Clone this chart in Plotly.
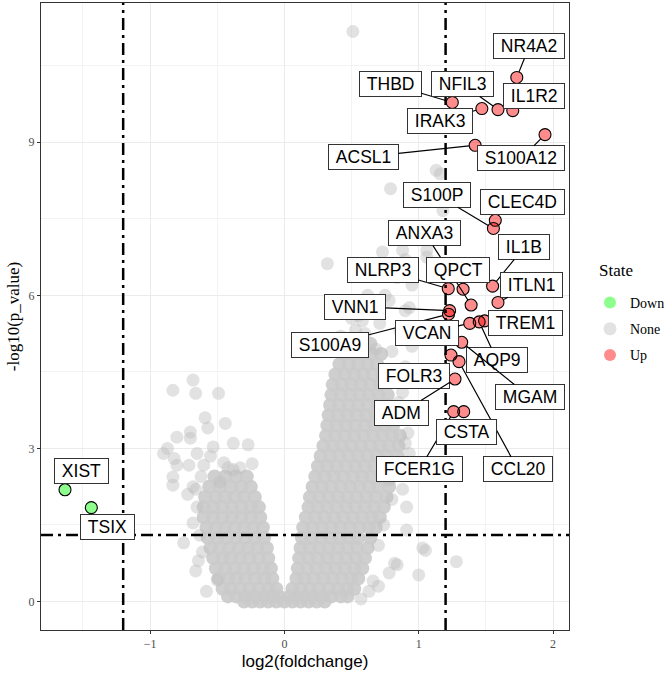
import math
import plotly.graph_objects as go

# ---------------- data ----------------
up_genes = ["NR4A2", "THBD", "NFIL3", "IL1R2", "IRAK3", "ACSL1", "S100A12", "S100P",
            "CLEC4D", "ANXA3", "IL1B", "NLRP3", "QPCT", "ITLN1", "VNN1", "S100A9",
            "VCAN", "AQP9", "TREM1", "MGAM", "FOLR3", "CCL20", "ADM", "FCER1G", "CSTA"]
up_log2fc = [1.73, 1.25, 1.59, 1.70, 1.47, 1.42, 1.94, 1.556,
             1.57, 1.39, 1.55, 1.22, 1.33, 1.59, 1.23, 1.222,
             1.38, 1.45, 1.49, 1.32, 1.24, 1.30, 1.27, 1.26, 1.335]
up_logp = [10.27, 9.78, 9.64, 9.62, 9.66, 8.94, 9.15, 7.31,
           7.47, 5.81, 6.18, 6.13, 6.12, 5.86, 5.70, 5.63,
           5.45, 5.48, 5.50, 5.08, 4.83, 4.70, 4.36, 3.72, 3.72]

down_genes = ["XIST", "TSIX"]
down_log2fc = [-1.633, -1.437]
down_logp = [2.19, 1.84]

# non-significant genes: dense core, typed row by row (y level, x values)
none_core_y = [0.00, 0.10, 0.25, 0.45, 0.65, 0.85, 1.05, 1.25, 1.45, 1.65, 1.85, 2.05,
               2.25, 2.45, 2.65, 2.85, 3.05, 3.25, 3.45, 3.65, 3.85, 4.05, 4.25, 4.45,
               4.65, 4.85, 5.05]
none_core_x = [
    [-0.30, -0.24, -0.18, -0.12, -0.06, 0.0, 0.06, 0.12, 0.18, 0.24, 0.30],
    [-0.42, -0.36, -0.29, -0.22, -0.15, -0.09, -0.04, 0.04, 0.09, 0.15, 0.21, 0.28, 0.35, 0.42, 0.47],
    [-0.46, -0.40, -0.33, -0.26, -0.19, -0.12, -0.06, 0.06, 0.12, 0.19, 0.26, 0.33, 0.40, 0.47, 0.52],
    [-0.49, -0.42, -0.36, -0.29, -0.22, -0.15, -0.09, 0.09, 0.15, 0.22, 0.29, 0.36, 0.43, 0.50, 0.55],
    [-0.51, -0.44, -0.37, -0.30, -0.23, -0.16, -0.10, 0.10, 0.17, 0.24, 0.31, 0.38, 0.45, 0.52, 0.58],
    [-0.53, -0.46, -0.40, -0.33, -0.26, -0.19, -0.12, 0.11, 0.18, 0.25, 0.32, 0.39, 0.46, 0.53, 0.60],
    [-0.55, -0.48, -0.41, -0.34, -0.27, -0.20, -0.13, 0.12, 0.19, 0.26, 0.33, 0.40, 0.47, 0.54, 0.62],
    [-0.57, -0.50, -0.43, -0.36, -0.29, -0.22, -0.15, 0.13, 0.20, 0.27, 0.34, 0.41, 0.48, 0.55, 0.64],
    [-0.58, -0.51, -0.44, -0.37, -0.30, -0.23, -0.16, 0.14, 0.21, 0.28, 0.35, 0.42, 0.49, 0.56, 0.63, 0.68],
    [-0.60, -0.53, -0.46, -0.39, -0.32, -0.25, -0.18, 0.16, 0.23, 0.30, 0.37, 0.44, 0.51, 0.58, 0.65, 0.71],
    [-0.60, -0.53, -0.46, -0.39, -0.32, -0.25, -0.19, 0.18, 0.25, 0.32, 0.39, 0.46, 0.53, 0.60, 0.67, 0.74],
    [-0.59, -0.51, -0.44, -0.37, -0.30, -0.22, 0.19, 0.26, 0.33, 0.40, 0.47, 0.54, 0.61, 0.68, 0.76],
    [-0.56, -0.48, -0.40, -0.32, -0.25, 0.21, 0.28, 0.35, 0.42, 0.49, 0.56, 0.63, 0.70, 0.78],
    [-0.52, -0.44, -0.36, -0.28, 0.23, 0.30, 0.37, 0.44, 0.51, 0.58, 0.65, 0.72, 0.80],
    [0.25, 0.32, 0.39, 0.46, 0.53, 0.60, 0.67, 0.74, 0.82],
    [0.27, 0.34, 0.41, 0.48, 0.55, 0.62, 0.69, 0.76, 0.84],
    [0.29, 0.36, 0.43, 0.50, 0.57, 0.64, 0.71, 0.78, 0.85],
    [0.31, 0.38, 0.45, 0.52, 0.59, 0.66, 0.73, 0.80, 0.86],
    [0.32, 0.39, 0.46, 0.53, 0.60, 0.67, 0.74, 0.81],
    [0.33, 0.40, 0.47, 0.54, 0.61, 0.68, 0.75, 0.82],
    [0.34, 0.41, 0.48, 0.55, 0.62, 0.69, 0.76],
    [0.35, 0.42, 0.49, 0.56, 0.63, 0.70, 0.77],
    [0.36, 0.43, 0.50, 0.57, 0.64, 0.71],
    [0.38, 0.45, 0.52, 0.59, 0.66, 0.73],
    [0.41, 0.48, 0.55, 0.62, 0.69],
    [0.44, 0.51, 0.58, 0.65, 0.72],
    [0.48, 0.56, 0.64],
]

# non-significant genes: scattered individual points
none_x = [-0.68, -0.83, -0.66, -0.49, -0.59, -0.44, -0.57, -0.70, -0.80, -0.70, -0.87, -0.53,
          -0.38, -0.27, -0.90, -0.65, -0.82, -0.80, -0.71, -0.60, -0.45, -0.38, -0.33, -0.83,
          -0.83, -0.68, -0.48, -0.65, -0.68, -0.75, -0.61, -0.50, -0.72, -0.62, -0.66, -0.55,
          -0.63, -0.64, -0.58, -0.66, -0.42, -0.24,
          0.51, 1.13, 1.16, 0.79, 1.18, 0.73, 1.06, 0.90, 0.84, 0.32, 0.65, 0.72, 0.95, 0.62,
          0.78, 0.90, 0.55, 0.86, 0.95, 0.90, 0.88, 0.95, 0.92, 0.93, 0.86, 0.78, 0.91, 0.91,
          1.03, 1.05, 0.82, 0.78, 1.00, 1.28, 0.84, 0.70, 0.63, 0.53, 0.71, 0.64, 0.93, 0.75,
          1.06, 0.88, 0.42, 0.58, 0.50,
          0.66, 0.70, 0.74, 0.80, 0.88, 0.90, 0.85, 0.82, 0.80, 0.60, 0.68, 0.57]
none_y = [4.34, 4.14, 4.08, 4.08, 3.60, 3.49, 3.40, 3.32, 3.22, 3.20, 3.00, 3.03,
          3.10, 3.07, 2.90, 2.90, 2.80, 2.67, 2.67, 2.67, 2.72, 2.58, 2.62, 2.44,
          2.28, 2.25, 2.34, 1.85, 1.54, 1.15, 0.97, 0.42, 2.10, 2.45, 0.60, 2.85,
          1.30, 0.80, 0.20, 2.20, 2.62, 2.70,
          11.17, 8.45, 8.38, 8.09, 7.66, 6.85, 6.75, 6.70, 6.35, 6.62, 6.60, 6.40, 6.20, 6.00,
          5.90, 5.70, 5.60, 5.30, 5.00, 4.60, 4.10, 3.70, 3.30, 2.90, 2.55, 2.38, 1.85, 1.40,
          1.05, 1.00, 0.75, 0.56, 0.52, 0.78, 0.72, 0.30, 0.20, 5.32, 5.45, 5.70, 5.76, 6.00,
          6.88, 6.88, 5.20, 5.50, 5.55,
          0.40, 1.10, 1.50, 2.00, 2.20, 3.10, 3.90, 4.50, 4.90, 5.25, 4.95, 0.05]

fc_cutoff = 1.2
p_cutoff = 0.05

# ---------------- layout helpers (label placement, data coords) ----------------
label_pos = {
    "NR4A2": (1.824, 10.885), "THBD": (0.788, 10.14), "NFIL3": (1.323, 10.14),
    "IL1R2": (1.857, 9.906), "IRAK3": (1.160, 9.417), "ACSL1": (0.588, 8.712),
    "S100A12": (1.765, 8.683), "S100P": (1.134, 7.969), "CLEC4D": (1.772, 7.832),
    "ANXA3": (1.045, 7.225), "IL1B": (1.787, 6.951), "NLRP3": (0.733, 6.501),
    "QPCT": (1.293, 6.501), "ITLN1": (1.843, 6.207), "VNN1": (0.525, 5.777),
    "S100A9": (0.343, 5.033), "VCAN": (1.059, 5.268), "AQP9": (1.583, 4.730),
    "TREM1": (1.798, 5.464), "MGAM": (1.828, 4.006), "FOLR3": (0.963, 4.427),
    "CCL20": (1.739, 2.587), "ADM": (0.870, 3.693), "FCER1G": (1.004, 2.587),
    "CSTA": (1.353, 3.321), "XIST": (-1.513, 2.558), "TSIX": (-1.316, 1.462),
}
no_segment = {"IL1R2", "CLEC4D", "QPCT", "TREM1", "FOLR3", "CSTA", "XIST", "TSIX"}

core_x, core_y = [], []
for yv, xs in zip(none_core_y, none_core_x):
    for xv in xs:
        core_x.append(xv)
        core_y.append(yv)

all_x = core_x + none_x + up_log2fc + down_log2fc
all_y = core_y + none_y + up_logp + down_logp
xr = [min(all_x), max(all_x)]
yr = [min(all_y), max(all_y)]
xpad = 0.05 * (xr[1] - xr[0])
ypad = 0.05 * (yr[1] - yr[0])
x_range = [xr[0] - xpad, xr[1] + xpad]
y_range = [yr[0] - ypad, yr[1] + ypad]
p_line = -math.log10(p_cutoff)

SERIF = "Liberation Serif, Times New Roman, serif"
SANS = "Liberation Sans, Arial, sans-serif"
GREY = "rgba(190,190,190,0.45)"

W, H = 669, 677
ML, MR, MT, MB = 41, 100, 3, 47
PW, PH = W - ML - MR, H - MT - MB

fig = go.Figure()
fig.add_trace(go.Scatter(x=core_x, y=core_y, mode="markers", showlegend=False,
                         hoverinfo="skip",
                         marker=dict(size=14, color="rgba(202,202,202,0.9)", line=dict(width=0))))
fig.add_trace(go.Scatter(x=down_log2fc, y=down_logp, mode="markers", name="Down",
                         legendgroup="a",
                         marker=dict(size=12, color="rgba(0,255,0,0.45)", line=dict(width=0))))
fig.add_trace(go.Scatter(x=none_x, y=none_y, mode="markers", name="None",
                         legendgroup="b",
                         marker=dict(size=13, color=GREY, line=dict(width=0))))
fig.add_trace(go.Scatter(x=up_log2fc, y=up_logp, mode="markers", name="Up",
                         legendgroup="c",
                         marker=dict(size=12, color="rgba(255,0,0,0.45)", line=dict(width=0))))

dash = "12px,5px,3px,5px"
for xv in (-fc_cutoff, fc_cutoff):
    fig.add_trace(go.Scatter(x=[xv, xv], y=y_range, mode="lines", showlegend=False,
                             hoverinfo="skip", line=dict(color="black", width=2.5, dash=dash)))
fig.add_trace(go.Scatter(x=x_range, y=[p_line, p_line], mode="lines", showlegend=False,
                         hoverinfo="skip", line=dict(color="black", width=2.5, dash=dash)))

# outlined labelled points
fig.add_trace(go.Scatter(x=up_log2fc + down_log2fc, y=up_logp + down_logp, mode="markers",
                         showlegend=False, hoverinfo="skip",
                         marker=dict(size=12, color="rgba(0,0,0,0)",
                                     line=dict(width=1.1, color="black"))))

anns = []
for names, xs, ys in ((up_genes, up_log2fc, up_logp), (down_genes, down_log2fc, down_logp)):
    for n, xv, yv in zip(names, xs, ys):
        lx, ly = label_pos[n]
        base = dict(text="\u00a0" + n + "\u00a0", font=dict(family=SANS, size=17.5, color="black"),
                    bgcolor="white", bordercolor="#333333", borderwidth=1, borderpad=2)
        if n in no_segment:
            anns.append(dict(x=lx, y=ly, xref="x", yref="y", showarrow=False, **base))
        else:
            anns.append(dict(x=xv, y=yv, xref="x", yref="y", ax=lx, ay=ly, axref="x", ayref="y",
                             showarrow=True, arrowhead=0, arrowwidth=1.2, arrowcolor="black",
                             standoff=6, **base))

# legend title as text
anns.append(dict(text="State", x=(597 - ML) / PW, y=1 - (271 - MT) / PH, xref="paper", yref="paper",
                 showarrow=False, xanchor="left", yanchor="middle",
                 font=dict(family=SERIF, size=17, color="black")))

axis_common = dict(showgrid=True, gridcolor="#ebebeb", gridwidth=1.1, automargin=False,
                   zeroline=False, showline=True, linecolor="#333333", linewidth=1, mirror=True,
                   ticks="outside", ticklen=3, tickcolor="#333333",
                   tickfont=dict(family=SERIF, size=12, color="#4d4d4d"),
                   minor=dict(showgrid=True, gridcolor="#f3f3f3", gridwidth=0.6))

fig.update_layout(
    width=W, height=H,
    margin=dict(l=ML, r=MR, t=MT, b=MB, autoexpand=False),
    paper_bgcolor="white", plot_bgcolor="white",
    xaxis=dict(range=x_range, tickvals=[-1, 0, 1, 2],
               title=dict(text="log2(foldchange)", font=dict(family=SANS, size=17, color="black"),
                          standoff=4),
               **axis_common),
    yaxis=dict(range=y_range, tickvals=[0, 3, 6, 9],
               title=dict(text="-log10(p_value)", font=dict(family=SERIF, size=17, color="black"),
                          standoff=4),
               **axis_common),
    legend=dict(font=dict(family=SERIF, size=14, color="black"),
                x=(590 - ML) / PW, y=1 - (287 - MT) / PH, yanchor="top", xanchor="left",
                traceorder="grouped", tracegroupgap=5, itemsizing="trace"),
    annotations=anns,
)
fig.update_xaxes(minor=dict(tickvals=[-1.5, -0.5, 0.5, 1.5]))
fig.update_yaxes(minor=dict(tickvals=[1.5, 4.5, 7.5, 10.5]))

fig.write_html("out.html", config={"displayModeBar": False},
               post_script="document.body.style.margin='0';document.body.style.overflow='hidden';")
